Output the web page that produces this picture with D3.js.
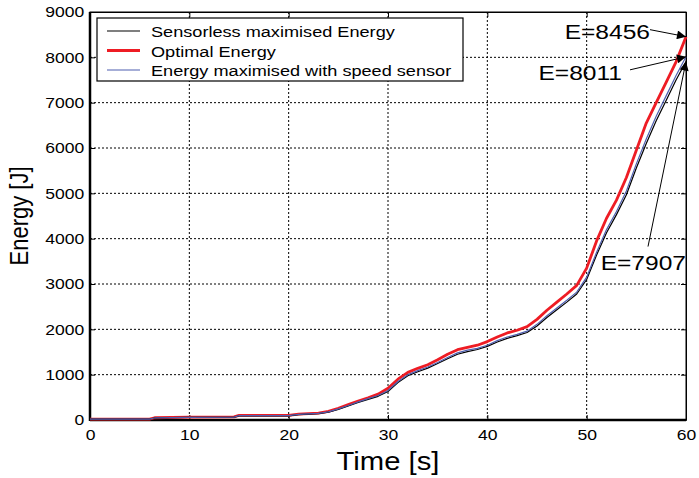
<!DOCTYPE html>
<html>
<head>
<meta charset="utf-8">
<script src="https://cdn.jsdelivr.net/npm/d3@7"></script>
<style>
  body { margin: 0; background: #fff; }
  svg { display: block; font-family: "Liberation Sans", Arial, sans-serif; }
</style>
</head>
<body>
<svg id="chart" width="699" height="478"></svg>
<script>
// time samples [s]
const times = [0, 6, 6.5, 10, 14.5, 15, 20, 21, 22, 23, 24, 25, 26, 27, 28, 29, 30, 31, 32, 33, 34, 35, 36, 37, 38, 39, 40,
    41, 42, 43, 44, 45, 46, 47, 48, 49, 50, 51, 52, 53, 54, 55, 56, 57, 58, 59, 60];

// energy [J] per series
const optimalEnergy = [20, 20, 50, 65, 70, 100, 100, 130, 140, 150, 190, 260, 340, 420, 490, 570, 700, 900, 1050, 1140, 1220, 1330, 1450, 1550, 1600, 1650, 1730,
    1830, 1920, 1980, 2060, 2220, 2420, 2600, 2780, 2970, 3350, 3950, 4450, 4850, 5350, 5950, 6550, 7000, 7450, 7900, 8456];
const sensorEnergy = [20, 20, 45, 60, 65, 95, 95, 125, 135, 145, 180, 245, 320, 400, 470, 540, 650, 850, 1000, 1090, 1170, 1270, 1380, 1480, 1540, 1580, 1650,
    1750, 1830, 1890, 1960, 2110, 2300, 2470, 2640, 2820, 3150, 3700, 4200, 4600, 5050, 5650, 6200, 6700, 7150, 7600, 8011];
const sensorlessEnergy = [20, 20, 45, 58, 62, 92, 92, 120, 130, 140, 172, 235, 308, 385, 455, 522, 630, 825, 975, 1065, 1145, 1245, 1350, 1450, 1510, 1555, 1625,
    1720, 1800, 1860, 1930, 2075, 2260, 2430, 2600, 2780, 3100, 3640, 4130, 4530, 4970, 5560, 6100, 6600, 7050, 7500, 7907];

const xTicks = [0, 10, 20, 30, 40, 50, 60];
const yTicks = [0, 1000, 2000, 3000, 4000, 5000, 6000, 7000, 8000, 9000];

const seriesNames = ["Sensorless maximised Energy", "Optimal Energy", "Energy maximised with speed sensor"];
const seriesColors = ["#000000", "#ee1c24", "#4f5fb0"];
const seriesWidths = [1.2, 2.8, 1.2];

const annotations = [
    { label: "E=8456", t: 60, e: 8456, dx: -36, dy: -7 },
    { label: "E=8011", t: 60, e: 8011, dx: -56, dy: 13 },
    { label: "E=7907", t: 60, e: 7907, dx: -38, dy: 185 }
];

// the original figure is stretched horizontally, text included
const stretch = 1.17;

const svg = d3.select("#chart");
const plotL = 90, plotR = 686, plotT = 12, plotB = 420;

const x = d3.scaleLinear().domain([0, 60]).range([plotL, plotR]);
const y = d3.scaleLinear().domain([0, 9000]).range([plotB, plotT]);

function addText(px, py, str, size, anchor, rotate) {
    const g = svg.append("g")
        .attr("transform", `translate(${px},${py}) scale(${stretch},1)` + (rotate ? ` rotate(${rotate})` : ""));
    g.append("text")
        .attr("text-anchor", anchor)
        .style("font-size", size + "px")
        .text(str);
    return g;
}

// grid
const grid = svg.append("g")
    .attr("stroke", "#000")
    .attr("stroke-width", 1)
    .attr("stroke-dasharray", "2,2");
grid.selectAll(".vx").data(xTicks.slice(1, -1)).enter().append("line")
    .attr("x1", (d) => x(d)).attr("x2", (d) => x(d))
    .attr("y1", plotT).attr("y2", plotB);
grid.selectAll(".hy").data(yTicks.slice(1, -1)).enter().append("line")
    .attr("x1", plotL).attr("x2", plotR)
    .attr("y1", (d) => y(d)).attr("y2", (d) => y(d));

// axes
const xAxis = svg.append("g")
    .attr("transform", `translate(0,${plotB})`)
    .call(d3.axisBottom(x).tickValues(xTicks).tickSizeInner(-5).tickSizeOuter(0).tickPadding(9));
const yAxis = svg.append("g")
    .attr("transform", `translate(${plotL},0)`)
    .call(d3.axisLeft(y).tickValues(yTicks).tickFormat(d3.format("d")).tickSizeInner(-5).tickSizeOuter(0).tickPadding(5));
svg.append("g")
    .attr("transform", `translate(0,${plotT})`)
    .call(d3.axisTop(x).tickValues(xTicks).tickSizeInner(-5).tickSizeOuter(0).tickFormat(""));
svg.append("g")
    .attr("transform", `translate(${plotR},0)`)
    .call(d3.axisRight(y).tickValues(yTicks).tickSizeInner(-5).tickSizeOuter(0).tickFormat(""));

svg.selectAll(".domain").attr("stroke", "#000");
[xAxis, yAxis].forEach((a) => a.selectAll("text")
    .attr("transform", `scale(${stretch},1)`)
    .style("font-size", "15px")
    .style("font-family", "Liberation Sans, Arial, sans-serif")
    .attr("fill", "#000"));

svg.append("rect")
    .attr("x", plotL).attr("y", plotT)
    .attr("width", plotR - plotL).attr("height", plotB - plotT)
    .attr("fill", "none").attr("stroke", "#000").attr("stroke-width", 1);
svg.append("line")
    .attr("x1", plotL).attr("x2", plotL).attr("y1", plotT).attr("y2", plotB + 1)
    .attr("stroke", "#000").attr("stroke-width", 2.5);
svg.append("line")
    .attr("x1", plotL).attr("x2", plotR).attr("y1", plotB).attr("y2", plotB)
    .attr("stroke", "#000").attr("stroke-width", 2.5);

// curves
const line = d3.line()
    .x((d) => x(d[0]))
    .y((d) => y(d[1]));
const seriesData = [sensorlessEnergy, optimalEnergy, sensorEnergy];
[1, 0, 2].forEach((i) => {
    svg.append("path")
        .datum(times.map((t, k) => [t, seriesData[i][k]]))
        .attr("d", line)
        .attr("fill", "none")
        .attr("stroke", seriesColors[i])
        .attr("stroke-width", seriesWidths[i])
        .attr("stroke-linejoin", "round");
});

// legend
svg.append("rect")
    .attr("x", 97).attr("y", 18)
    .attr("width", 366).attr("height", 63)
    .attr("fill", "#fff").attr("stroke", "#000").attr("stroke-width", 1.2);
seriesNames.forEach((name, i) => {
    const ly = 31 + i * 19.5;
    svg.append("line")
        .attr("x1", 107).attr("x2", 140).attr("y1", ly).attr("y2", ly)
        .attr("stroke", seriesColors[i]).attr("stroke-width", seriesWidths[i]);
    addText(151, ly + 6, name, 15.5, "start");
});

// annotations
svg.append("defs").append("marker")
    .attr("id", "arrow")
    .attr("viewBox", "0 0 10 10")
    .attr("refX", 10).attr("refY", 5)
    .attr("markerWidth", 14).attr("markerHeight", 9)
    .attr("markerUnits", "userSpaceOnUse")
    .attr("orient", "auto")
    .append("path").attr("d", "M0,0L10,5L0,10Z").attr("fill", "#000");

annotations.forEach((a) => {
    const tx = x(a.t), ty = y(a.e);
    svg.append("line")
        .attr("x1", tx + a.dx).attr("y1", ty + a.dy)
        .attr("x2", tx).attr("y2", ty)
        .attr("stroke", "#000").attr("stroke-width", 1)
        .attr("marker-end", "url(#arrow)");
});
addText(x(60) - 36, y(8456) + 2, annotations[0].label, 21, "end");
addText(x(60) - 64, y(8011) + 23, annotations[1].label, 21, "end");
addText(x(60), y(7907) + 208, annotations[2].label, 21, "end");

// axis titles
addText((plotL + plotR) / 2, 470, "Time [s]", 25, "middle");
addText(28, (plotT + plotB) / 2, "Energy [J]", 22, "middle", -90);
</script>
</body>
</html>
